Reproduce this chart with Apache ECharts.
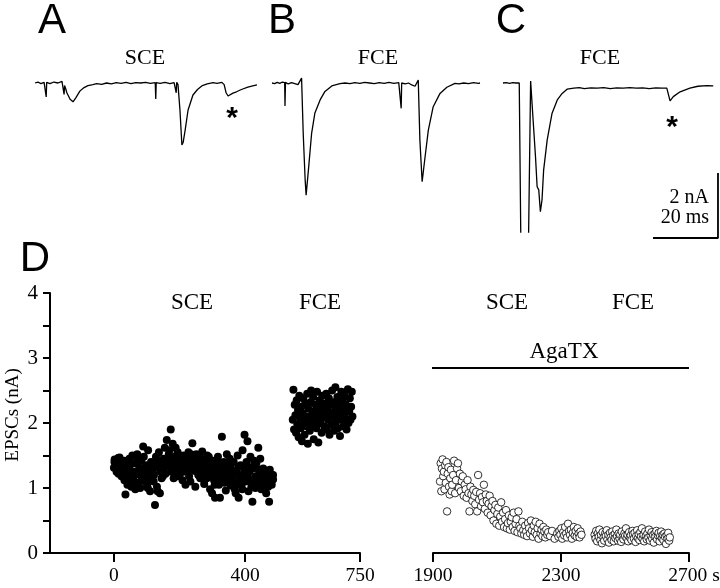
<!DOCTYPE html>
<html><head><meta charset="utf-8">
<script src="https://cdn.jsdelivr.net/npm/echarts@6/dist/echarts.min.js"></script>
<style>html,body{margin:0;padding:0;background:#fff}#c{width:720px;height:588px}</style>
</head><body><div id="c"></div>
<script>
// ---- Trace data: [time (ms), current (nA)] ----
const traceA = [[0,0],[0.9,0.03],[1.8,-0.02],[2.8,0.02],[3.3,0.0],[3.45,-0.43],[3.6,0.02],[4.6,-0.02],[5.8,0.03],[7.1,0.0],[8.3,0.05],[8.8,0.08],[8.95,-0.35],[9.1,-0.08],[9.4,-0.16],[9.8,-0.3],[10.8,-0.5],[11.7,-0.58],[12.6,-0.45],[13.8,-0.25],[15.1,-0.14],[16.3,-0.08],[17.8,-0.05],[19,-0.02],[20.5,-0.04],[22,0.0],[23.5,-0.03],[25,0.01],[26.5,-0.01],[28,0.02],[29.5,-0.02],[31,0.01],[32.5,0.0],[34,0.02],[35.5,-0.01],[37.0,0.01],[37.15,-0.49],[37.3,0.01],[38.5,-0.01],[40,0.02],[41.5,-0.02],[42.8,0.01],[43.3,0.06],[43.45,-0.3],[43.6,0.02],[44.0,-0.05],[44.6,-0.83],[45.2,-1.91],[45.6,-1.82],[46.2,-1.45],[47.1,-0.83],[48.6,-0.37],[50.0,-0.2],[51.5,-0.08],[53,-0.03],[54.8,0.01],[56,-0.01],[57.5,0.02],[58.2,-0.05],[58.8,-0.3],[59.4,-0.4],[60.9,-0.31],[62,-0.27],[63.5,-0.2],[65.5,-0.13],[67,-0.09],[68.3,-0.06]];
const traceB = [[0,0],[0.8,-0.02],[1.6,0.02],[2.4,-0.01],[3.2,0.03],[3.9,0.01],[4.0,-0.71],[4.15,0.02],[5,-0.03],[6,0.01],[7,-0.02],[8,-0.05],[8.6,-0.07],[9.1,0.15],[9.6,-1.54],[10.2,-2.98],[10.5,-3.45],[11.2,-2.68],[12.2,-1.54],[13.2,-0.92],[14.8,-0.52],[16.3,-0.26],[18.4,-0.09],[20.9,-0.02],[22.5,0.0],[24,-0.02],[25.5,0.01],[27,-0.01],[28.5,0.02],[30,0.0],[31.5,-0.02],[33,0.01],[34.5,-0.01],[36,0.02],[37.5,-0.01],[39,0.01],[39.6,0.03],[39.75,-0.78],[39.9,0.0],[41,-0.03],[42,0.0],[43,-0.06],[44,-0.1],[44.6,-0.06],[45.0,0.09],[45.5,-1.75],[46.2,-3.04],[47.1,-2.27],[48.1,-1.45],[49.6,-0.73],[51.7,-0.32],[53.8,-0.13],[56.3,-0.01],[57.5,-0.03],[59,0.0],[60.5,-0.02],[62,0.01],[63.5,-0.01],[64.0,0.0]];
const traceC = [[0,0],[1,0.01],[2,-0.01],[3,0.01],[4,0.0],[5,0.0],[5.4,0.0],[5.6,-6],[7.7,-6],[8.5,0.06],[9.2,-1.04],[10.0,-2.27],[10.5,-3.19],[11.0,-3.29],[11.5,-3.96],[12.0,-3.6],[12.5,-2.68],[13.6,-1.75],[15.1,-0.93],[16.7,-0.52],[18.2,-0.32],[19.7,-0.19],[21.8,-0.16],[23.5,-0.14],[25,-0.17],[27,-0.15],[29,-0.16],[31,-0.14],[33,-0.17],[35,-0.15],[37,-0.16],[39,-0.14],[41,-0.16],[43,-0.15],[45,-0.17],[47,-0.15],[49,-0.16],[50.4,-0.16],[51.4,-0.55],[52.4,-0.42],[54.5,-0.27],[57.5,-0.16],[60,-0.1],[62.7,-0.08],[64.7,-0.09]];
// scale bar: 20 ms, 2 nA
const scaleBar = [[46.15,-4.77],[66.15,-4.77],[66.15,-2.77]];

// ---- Panel D data: [time (s), EPSC (nA)] ----
const controlSCE = [[0,1.31],[2,1.44],[5,1.38],[8,1.25],[11,1.35],[14,1.22],[17,1.47],[20,1.33],[23,1.18],[26,1.40],
[29,1.29],[32,1.12],[35,0.90],[38,1.36],[41,1.05],[44,1.18],[47,1.45],[50,1.27],[53,1.02],[56,1.50],
[59,1.14],[62,1.38],[65,0.98],[68,1.22],[71,1.52],[74,1.08],[77,1.31],[80,1.00],[83,1.42],[86,1.16],
[89,1.64],[92,1.26],[95,1.10],[98,1.35],[101,1.05],[104,1.58],[107,1.22],[110,0.95],[113,1.40],[116,1.13],
[119,1.28],[122,1.20],[125,0.74],[128,1.48],[131,1.02],[134,1.36],[137,1.55],[140,0.92],[143,1.25],[146,1.42],
[149,1.18],[152,1.30],[155,1.62],[158,1.38],[161,1.74],[164,1.45],[167,1.52],[170,1.33],[173,1.90],[176,1.40],
[179,1.68],[182,1.15],[185,1.48],[188,1.62],[191,1.26],[194,1.55],[197,1.36],[200,1.20],[203,1.44],[206,1.30],
[209,1.12],[212,1.50],[215,1.38],[218,1.05],[221,1.42],[224,1.25],[227,1.55],[230,1.32],[233,1.10],[236,1.46],
[239,1.69],[242,1.28],[245,1.40],[248,1.02],[251,1.52],[254,1.34],[257,1.20],[260,1.48],[263,1.15],[266,1.38],
[269,1.56],[272,1.24],[275,1.06],[278,1.44],[281,1.30],[284,1.50],[287,1.18],[290,1.38],[293,0.98],[296,1.27],
[299,0.92],[302,1.42],[305,1.12],[308,0.85],[311,1.35],[314,1.20],[317,1.48],[320,1.05],[323,0.85],[326,1.30],
[329,1.79],[332,1.15],[335,1.40],[338,1.25],[341,0.96],[344,1.52],[347,1.10],[350,1.32],[353,1.45],[356,1.04],
[359,1.28],[362,1.18],[365,1.40],[368,0.98],[371,0.92],[374,1.22],[377,1.50],[380,0.85],[383,1.12],[386,1.35],
[389,1.05],[392,1.58],[395,1.20],[398,1.82],[401,1.10],[404,1.40],[407,1.72],[410,0.95],[413,1.25],[416,1.48],
[419,1.02],[422,0.79],[425,1.30],[428,1.15],[431,1.00],[434,1.38],[437,1.08],[440,1.62],[443,1.22],[446,1.45],
[449,0.98],[452,1.18],[455,1.30],[458,1.05],[461,1.12],[464,0.92],[467,1.25],[470,1.02],[473,0.79],[476,1.15],
[479,1.08],[482,1.20],[485,1.13],
[1.5,1.40],[7,1.30],[13,1.46],[19,1.28],[25,1.36],[31,1.42],[37,1.20],[43,1.33],[49,1.10],[55,1.38],
[61,1.25],[67,1.05],[73,1.44],[79,1.20],[85,1.30],[91,1.48],[97,1.15],[103,1.00],[109,1.32],[115,1.25],
[121,1.10],[127,1.38],[133,0.95],[139,1.30],[145,1.15],[151,1.45],[157,1.22],[163,1.35],[169,1.58],[175,1.25],
[181,1.42],[187,1.30],[193,1.18],[199,1.50],[205,1.40],[211,1.25],[217,1.45],[223,1.35],[229,1.18],[235,1.52],
[241,1.38],[247,1.26],[253,1.45],[259,1.32],[265,1.25],[271,1.42],[277,1.35],[283,1.15],[289,1.48],[295,1.22],
[301,1.30],[307,1.05],[313,1.42],[319,1.25],[325,1.15],[331,1.38],[337,1.08],[343,1.30],[349,1.20],[355,1.36],
[361,1.10],[367,1.25],[373,1.05],[379,1.32],[385,1.20],[391,0.98],[397,1.30],[403,1.22],[409,1.15],[415,1.32],
[421,1.10],[427,1.42],[433,1.18],[439,1.05],[445,1.28],[451,1.12],[457,1.22],[463,1.08],[469,1.18],[475,1.28],
[481,1.05],[485,1.20]];
const controlFCE = [[545,2.05],[547,2.51],[549,1.90],[551,2.28],[553,2.12],[555,1.85],[557,2.35],[559,1.98],[561,2.20],[563,1.78],
[565,2.42],[567,2.08],[569,1.92],[571,2.25],[573,1.72],[575,2.15],[577,2.38],[579,2.00],[581,1.82],[583,2.30],
[585,2.10],[587,1.95],[589,2.45],[591,1.68],[593,2.22],[595,2.05],[597,1.88],[599,2.32],[601,2.50],[603,2.12],
[605,1.98],[607,2.40],[609,1.75],[611,2.18],[613,2.02],[615,2.28],[617,1.92],[619,2.48],[621,2.10],[623,1.70],
[625,2.25],[627,2.35],[629,2.00],[631,2.15],[633,1.85],[635,2.42],[637,2.08],[639,2.20],[641,1.95],[643,2.30],
[645,2.12],[647,2.45],[649,1.90],[651,2.22],[653,2.05],[655,2.38],[657,1.82],[659,2.15],[661,2.28],[663,1.98],
[665,2.50],[667,2.10],[669,2.32],[671,1.88],[673,2.18],[675,2.55],[677,2.02],[679,2.25],[681,2.40],[683,1.92],
[685,2.12],[687,2.30],[689,1.80],[691,2.20],[693,2.48],[695,2.05],[697,2.35],[699,1.95],[701,2.15],[703,2.42],
[705,2.08],[707,2.28],[709,1.90],[711,2.22],[713,2.52],[715,2.00],[717,2.18],[719,2.38],[721,2.05],[723,2.25],
[725,2.48],[727,2.10]];
const agaSCE = [[1922,1.10],[1924,1.38],[1926,0.95],[1928,1.30],[1930,1.44],[1932,1.18],[1934,1.25],[1936,0.98],[1938,1.35],[1940,1.08],
[1942,1.40],[1944,0.64],[1946,1.22],[1948,1.32],[1950,1.02],[1952,0.90],[1954,1.15],[1956,1.28],[1958,0.95],[1960,1.05],
[1963,1.20],[1966,1.42],[1969,0.92],[1972,1.12],[1975,1.30],[1978,1.38],[1981,1.00],[1984,1.22],[1987,0.95],[1990,1.10],
[1993,1.18],[1996,0.88],[1999,1.05],[2002,0.98],[2005,0.85],[2008,1.12],[2011,0.92],[2014,0.64],[2017,1.02],[2020,0.90],
[2023,0.80],[2026,0.97],[2029,0.88],[2032,0.75],[2035,0.94],[2038,0.64],[2041,1.20],[2044,0.82],[2047,0.92],[2050,0.72],
[2053,0.86],[2056,0.78],[2059,1.05],[2062,0.68],[2065,0.90],[2068,0.80],[2071,0.62],[2074,0.76],[2077,0.88],[2080,0.58],
[2083,0.72],[2086,0.80],[2089,0.50],[2092,0.66],[2095,0.74],[2098,0.45],[2101,0.60],[2104,0.70],[2107,0.42],[2110,0.56],
[2113,0.78],[2116,0.48],[2119,0.62],[2122,0.40],[2125,0.52],[2128,0.66],[2131,0.38],[2134,0.46],[2137,0.58],[2140,0.36],
[2143,0.48],[2146,0.55],[2149,0.40],[2152,0.62],[2155,0.34],[2158,0.45],[2161,0.52],[2164,0.32],[2167,0.64],[2170,0.42],
[2173,0.38],[2176,0.30],[2179,0.48],[2182,0.35],[2185,0.28],[2188,0.42],[2191,0.33],[2194,0.26],[2197,0.46],[2200,0.38],
[2203,0.30],[2206,0.50],[2209,0.35],[2212,0.25],[2215,0.42],[2218,0.32],[2221,0.48],[2224,0.28],[2227,0.38],[2230,0.22],
[2233,0.45],[2236,0.30],[2239,0.36],[2242,0.26],[2245,0.40],[2248,0.33],[2251,0.24],[2254,0.36],[2257,0.28],[2260,0.32],
[2266,0.26],[2272,0.34],[2280,0.22],[2288,0.30],
[2292,0.25],[2295,0.34],[2298,0.28],[2301,0.38],[2304,0.22],[2307,0.32],[2310,0.27],[2313,0.40],[2316,0.30],[2319,0.24],
[2322,0.45],[2325,0.34],[2328,0.28],[2331,0.36],[2334,0.22],[2337,0.31],[2340,0.40],[2343,0.27],[2346,0.34],[2349,0.25],
[2352,0.38],[2355,0.30],[2358,0.24],[2361,0.33],[2364,0.28]];
const agaFCE = [[2405,0.28],[2408,0.22],[2410,0.34],[2413,0.18],[2415,0.30],[2418,0.25],[2420,0.36],[2423,0.20],[2425,0.28],[2428,0.15],
[2430,0.32],[2433,0.24],[2435,0.19],[2438,0.30],[2440,0.26],[2443,0.35],[2445,0.21],[2448,0.28],[2450,0.16],[2453,0.31],
[2455,0.24],[2458,0.20],[2460,0.33],[2463,0.27],[2465,0.18],[2468,0.29],[2470,0.23],[2473,0.36],[2475,0.26],[2478,0.19],
[2480,0.30],[2483,0.22],[2485,0.28],[2488,0.17],[2490,0.33],[2493,0.25],[2495,0.21],[2498,0.30],[2500,0.26],[2503,0.38],
[2505,0.23],[2508,0.28],[2510,0.18],[2513,0.32],[2515,0.24],[2518,0.27],[2520,0.20],[2523,0.34],[2525,0.29],[2528,0.22],
[2530,0.31],[2533,0.17],[2535,0.26],[2538,0.35],[2540,0.23],[2543,0.29],[2545,0.20],[2548,0.32],[2550,0.25],[2553,0.38],
[2555,0.22],[2558,0.28],[2560,0.18],[2563,0.33],[2565,0.26],[2568,0.21],[2570,0.30],[2573,0.24],[2575,0.36],[2578,0.19],
[2580,0.27],[2583,0.32],[2585,0.22],[2588,0.28],[2590,0.16],[2593,0.30],[2595,0.25],[2598,0.34],[2600,0.21],[2603,0.27],
[2605,0.31],[2608,0.18],[2610,0.26],[2613,0.33],[2615,0.23],[2618,0.28],[2620,0.20],[2623,0.30],[2625,0.25],[2628,0.14],
[2630,0.27],[2633,0.22],[2635,0.31],[2638,0.19],[2640,0.24]];
const agaBar = [[1891,2.846],[2700,2.846]];

const leftTicks = [0, 400, 750];
const rightTicks = [1900, 2300, 2700];
const yTicks = [0, 1, 2, 3, 4];

const SERIF = '"Liberation Serif", "Times New Roman", serif';
const SANS = '"Liberation Sans", Arial, sans-serif';

const chart = echarts.init(document.getElementById('c'), null, {renderer: 'canvas'});
const hiddenAxis = (gi, min, max) => ({gridIndex: gi, type: 'value', min, max, show: false});
const traceTop = 66.75, traceH = 165.25;
const G = {containLabel: false, outerBoundsMode: 'none'};

function txt(text, x, y, font, extra) {
  return Object.assign({type: 'text', x, y, style: {text, font, fill: '#000', align: 'center', verticalAlign: 'middle', textAlign: 'center', textVerticalAlign: 'middle'}}, extra || {});
}

const option = {
  animation: false,
  backgroundColor: '#fff',
  grid: [
    Object.assign({left: 35, top: traceTop, width: 68.5 * 3.25, height: traceH}, G),
    Object.assign({left: 272, top: traceTop, width: 64.5 * 3.25, height: traceH}, G),
    Object.assign({left: 503, top: traceTop, width: 66.5 * 3.25, height: traceH}, G),
    Object.assign({left: 50, top: 293, width: 310, height: 260}, G),
    Object.assign({left: 433, top: 293, width: 256, height: 260}, G)
  ],
  xAxis: [
    hiddenAxis(0, 0, 68.5), hiddenAxis(1, 0, 64.5), hiddenAxis(2, 0, 66.5),
    {gridIndex: 3, type: 'value', min: -195, max: 750,
      axisLine: {show: true, onZero: false, lineStyle: {color: '#000', width: 2}},
      axisTick: {show: true, length: 9, lineStyle: {color: '#000', width: 2}, customValues: leftTicks},
      axisLabel: {show: true, customValues: leftTicks, margin: 13, color: '#000', fontFamily: SERIF, fontSize: 19.5},
      splitLine: {show: false}},
    {gridIndex: 4, type: 'value', min: 1900, max: 2700,
      axisLine: {show: true, onZero: false, lineStyle: {color: '#000', width: 2}},
      axisTick: {show: true, length: 9, lineStyle: {color: '#000', width: 2}, customValues: rightTicks},
      axisLabel: {show: true, customValues: rightTicks, margin: 13, color: '#000', fontFamily: SERIF, fontSize: 19.5,
        formatter: v => v === 2700 ? '{p|}2700 s' : String(v),
        rich: {p: {width: 10}}},
      splitLine: {show: false}}
  ],
  yAxis: [
    hiddenAxis(0, -4.585, 0.5), hiddenAxis(1, -4.585, 0.5), hiddenAxis(2, -4.585, 0.5),
    {gridIndex: 3, type: 'value', min: 0, max: 4, interval: 0.5,
      axisLine: {show: true, onZero: false, lineStyle: {color: '#000', width: 2}},
      axisTick: {show: true, length: 7, lineStyle: {color: '#000', width: 2}},
      axisLabel: {show: true, margin: 12, color: '#000', fontFamily: SERIF, fontSize: 21,
        formatter: v => (yTicks.indexOf(v) >= 0 ? String(v) : '')},
      splitLine: {show: false}},
    {gridIndex: 4, type: 'value', min: 0, max: 4, show: false}
  ],
  series: [
    {type: 'line', xAxisIndex: 0, yAxisIndex: 0, data: traceA, showSymbol: false, symbol: 'none', clip: true, lineStyle: {color: '#000', width: 1.3}},
    {type: 'line', xAxisIndex: 1, yAxisIndex: 1, data: traceB, showSymbol: false, symbol: 'none', clip: true, lineStyle: {color: '#000', width: 1.3}},
    {type: 'line', xAxisIndex: 2, yAxisIndex: 2, data: traceC, showSymbol: false, symbol: 'none', clip: true, lineStyle: {color: '#000', width: 1.3}},
    {type: 'line', xAxisIndex: 2, yAxisIndex: 2, data: scaleBar, showSymbol: false, symbol: 'none', clip: false, lineStyle: {color: '#000', width: 1.8}},
    {type: 'scatter', xAxisIndex: 3, yAxisIndex: 3, data: controlSCE, symbol: 'circle', symbolSize: 8, itemStyle: {color: '#000', opacity: 1}},
    {type: 'scatter', xAxisIndex: 3, yAxisIndex: 3, data: controlFCE, symbol: 'circle', symbolSize: 8, itemStyle: {color: '#000', opacity: 1}},
    {type: 'scatter', xAxisIndex: 4, yAxisIndex: 4, data: agaSCE, symbol: 'circle', symbolSize: 7.5, itemStyle: {color: '#fff', borderColor: '#000', borderWidth: 0.8, opacity: 1}},
    {type: 'scatter', xAxisIndex: 4, yAxisIndex: 4, data: agaFCE, symbol: 'circle', symbolSize: 7.5, itemStyle: {color: '#fff', borderColor: '#000', borderWidth: 0.8, opacity: 1}},
    {type: 'line', xAxisIndex: 4, yAxisIndex: 4, data: agaBar, showSymbol: false, symbol: 'none', clip: false, lineStyle: {color: '#000', width: 2}}
  ],
  graphic: [
    txt('A', 52, 21, '42px ' + SANS),
    txt('B', 282, 21, '42px ' + SANS),
    txt('C', 511, 21, '42px ' + SANS),
    txt('D', 35, 259, '42px ' + SANS),
    txt('SCE', 145, 58, '22px ' + SERIF),
    txt('FCE', 378, 58, '22px ' + SERIF),
    txt('FCE', 600, 58, '22px ' + SERIF),
    txt('*', 232, 119, 'bold 30px ' + SANS),
    txt('*', 672, 128, 'bold 30px ' + SANS),
    {type: 'text', x: 709, y: 198, style: {text: '2 nA', font: '20px ' + SERIF, fill: '#000', align: 'right', verticalAlign: 'middle', textAlign: 'right', textVerticalAlign: 'middle'}},
    {type: 'text', x: 709, y: 218, style: {text: '20 ms', font: '20px ' + SERIF, fill: '#000', align: 'right', verticalAlign: 'middle', textAlign: 'right', textVerticalAlign: 'middle'}},
    txt('SCE', 192, 303, '23px ' + SERIF),
    txt('FCE', 320, 303, '23px ' + SERIF),
    txt('SCE', 507, 303, '23px ' + SERIF),
    txt('FCE', 633, 303, '23px ' + SERIF),
    txt('AgaTX', 564, 352, '23px ' + SERIF),
    txt('EPSCs (nA)', 13, 415, '19px ' + SERIF, {rotation: Math.PI / 2})
  ]
};
chart.setOption(option);
</script>
</body></html>
